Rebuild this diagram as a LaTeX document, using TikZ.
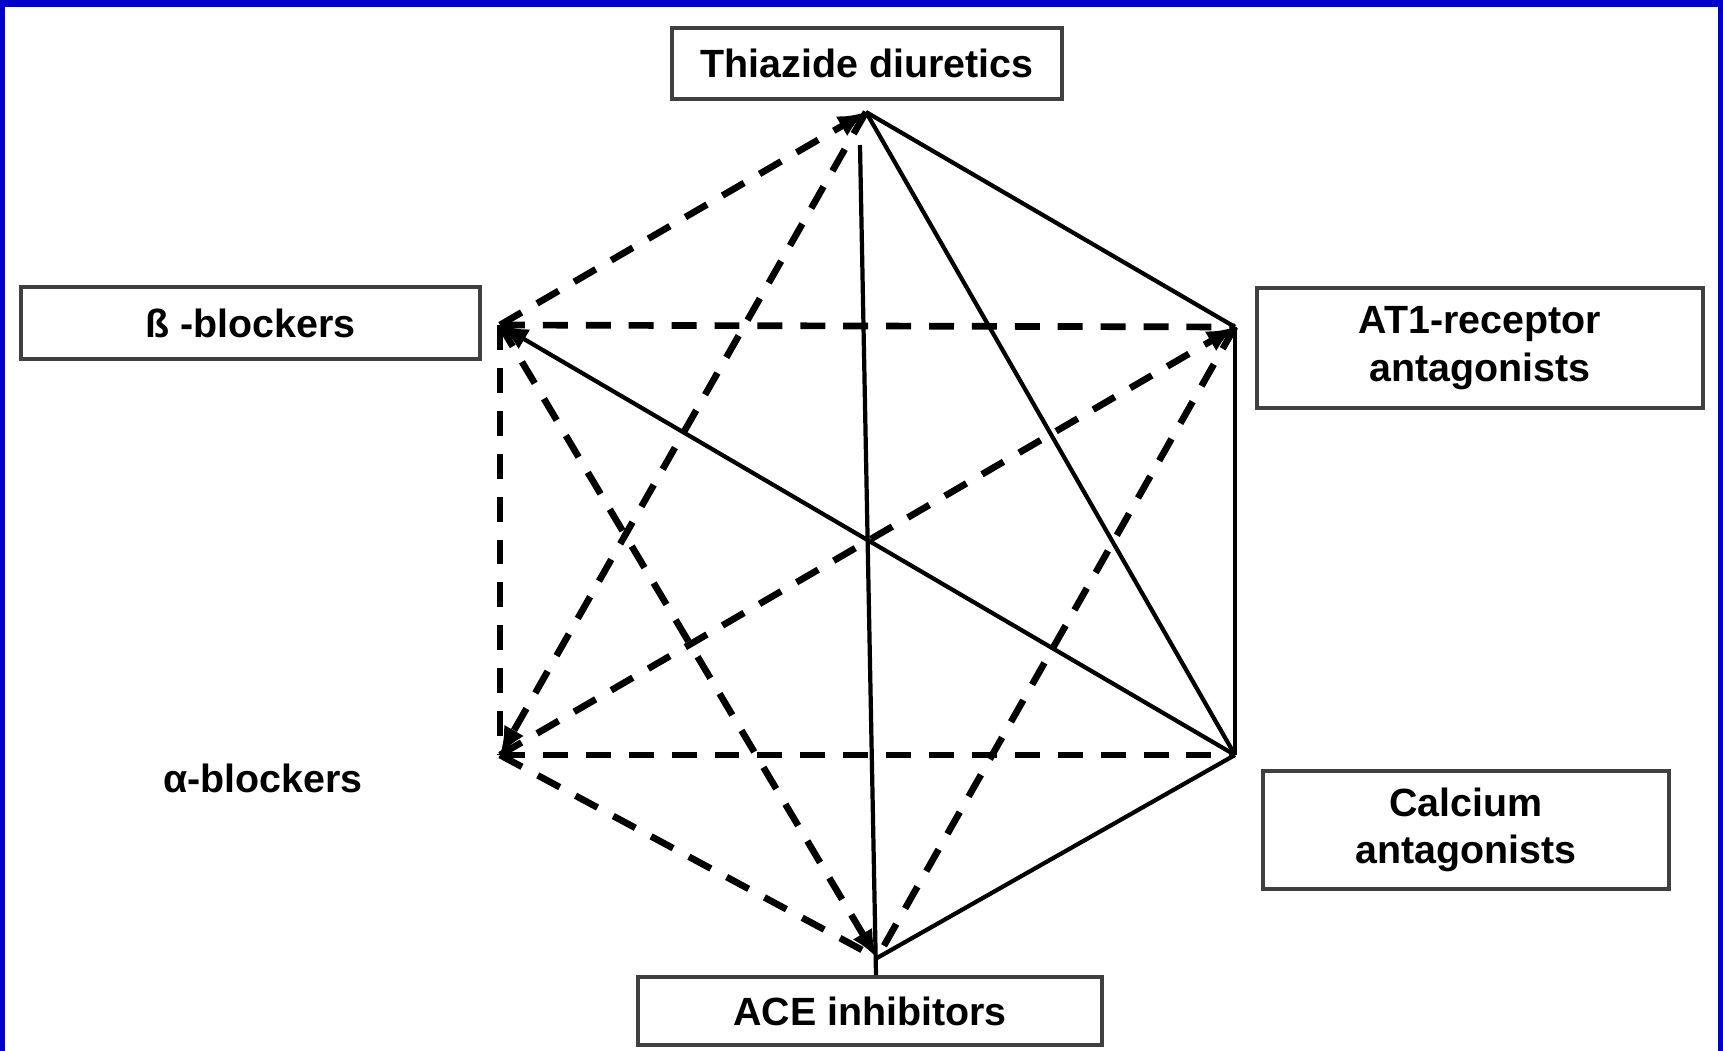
\documentclass[tikz,border=0pt]{standalone}
\usepackage{fontspec}
\setmainfont{Liberation Sans}
\usetikzlibrary{arrows.meta,calc}
\definecolor{frameblue}{HTML}{0000CC}
\definecolor{boxline}{HTML}{404040}
\begin{document}
\begin{tikzpicture}[x=0.01cm,y=-0.01cm,
  labelfont/.style={font=\fontsize{11.2}{13.5}\selectfont\bfseries},
  drugbox/.style={draw=boxline,line width=1.1pt,fill=white,inner sep=0pt,
    align=center,labelfont},
  freelabel/.style={inner sep=0pt,labelfont},
  preferred/.style={line width=1.2pt},
  possible/.style={line width=1.9pt,dash pattern=on 7.1pt off 5.1pt},
  tip/.style={-{Latex[length=8pt,width=6.5pt]}}]

% page and blue frame
\useasboundingbox (0,0) rectangle (1723,1051);
\fill[white] (0,0) rectangle (1723,1051);
\fill[frameblue] (0,0) rectangle (5,1051);
\fill[frameblue] (0,0) rectangle (1723,7);
\fill[frameblue] (1718,0) rectangle (1723,1051);

% drug classes
\node[drugbox,minimum width=3.90cm,minimum height=0.71cm] (thz) at (867,63.5) {Thiazide diuretics};
\node[drugbox,minimum width=4.59cm,minimum height=0.72cm] (beta) at (250.5,323) {ß -blockers};
\node[drugbox,minimum width=4.46cm,minimum height=1.20cm] (at1) at (1480,348) {AT1-receptor\\antagonists};
\node[drugbox,minimum width=4.06cm,minimum height=1.18cm] (ca) at (1466,830) {Calcium\\antagonists};
\node[drugbox,minimum width=4.64cm,minimum height=0.68cm] (ace) at (870,1011) {ACE inhibitors};
\node[freelabel] (alpha) at (263,778) {α-blockers};

% corners of the hexagon
\coordinate (vT) at (866,112);
\coordinate (vB) at (500,325);
\coordinate (vR1) at (1235,327);
\coordinate (vA) at (500,755);
\coordinate (vR2) at (1235,755);
\coordinate (vC) at (877,958);
\coordinate (vTC) at (860,145);

% preferred combinations
\draw[preferred] (vT) -- (vR1);
\draw[preferred] (vT) -- (vR2);
\draw[preferred] (vTC) -- ($(ace.north)+(6,0)$);
\draw[preferred] (vR1) -- (vR2);
\draw[preferred] (vR2) -- (vC);
\draw[preferred,tip] (vR2) -- (vB);

% other possible combinations
\draw[possible,tip] (vB) -- (vT);
\draw[possible,tip] (vT) -- (vA);
\draw[possible] (vB) -- (vR1);
\draw[possible] (vB) -- (vA);
\draw[possible,tip] (vB) -- (vC);
\draw[possible,tip] (vA) -- (vR1);
\draw[possible] (vR1) -- (vC);
\draw[possible] (vA) -- (vR2);
\draw[possible] (vA) -- (vC);
\end{tikzpicture}
\end{document}
